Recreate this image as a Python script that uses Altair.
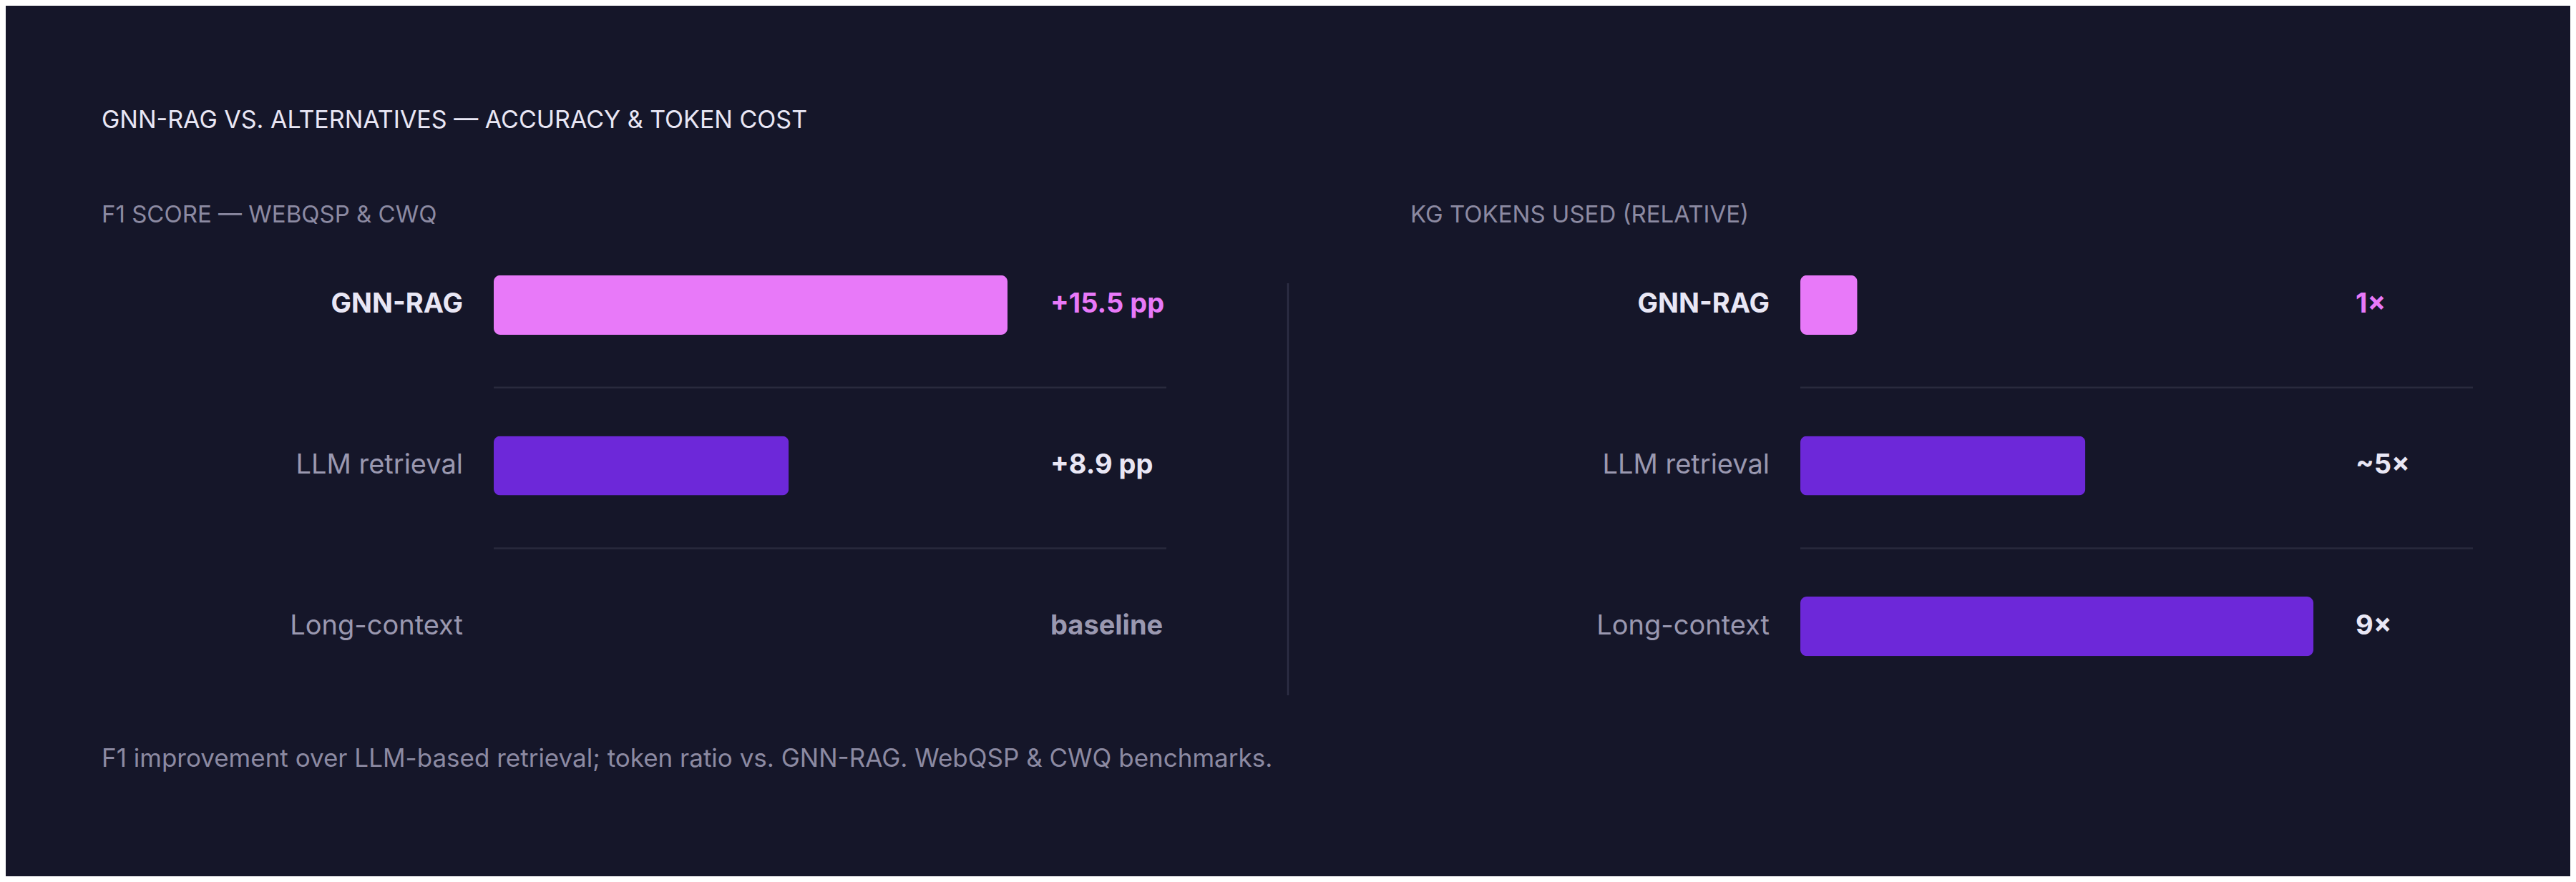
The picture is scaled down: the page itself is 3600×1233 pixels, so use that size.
import altair as alt
import pandas as pd

# ---- data ----
methods = ["GNN-RAG", "LLM retrieval", "Long-context"]
f1_gain = [15.5, 8.9, 0.0]
f1_labels = ["+15.5 pp", "+8.9 pp", "baseline"]
token_ratio = [1, 5, 9]
token_labels = ["1×", "~5×", "9×"]

title_text = "GNN-RAG VS. ALTERNATIVES — ACCURACY & TOKEN COST"
left_subtitle = "F1 SCORE — WEBQSP & CWQ"
right_subtitle = "KG TOKENS USED (RELATIVE)"
footnote_text = "F1 improvement over LLM-based retrieval; token ratio vs. GNN-RAG. WebQSP & CWQ benchmarks."

df = pd.DataFrame({
    "method": methods,
    "f1": f1_gain,
    "f1_label": f1_labels,
    "tokens": token_ratio,
    "tok_label": token_labels,
})

# ---- style ----
BG = "#151629"
PINK = "#e879f9"
PURPLE = "#6d28d9"
WHITE = "#e9e7f5"
GREY = "#9a98b0"
SUB = "#8c8aa2"
SEP = "#292a3d"
DIV = "#2d2e44"
FONT = "Inter"
W, H = 3584, 1217

base = alt.Chart(df)
y_enc = alt.Y(
    "method:N", sort=methods, axis=None,
    scale=alt.Scale(domain=methods, range=[306, 980], paddingInner=0.63, paddingOuter=0.315),
)

left_bars = base.mark_bar(cornerRadius=9).encode(
    x=alt.X("f1:Q", axis=None,
            scale=alt.Scale(domain=[0, max(f1_gain)], range=[682, 1400], nice=False, zero=True)),
    y=y_enc,
    color=alt.Color("method:N", legend=None,
                    scale=alt.Scale(domain=methods, range=[PINK, PURPLE, PURPLE])),
)

right_bars = base.mark_bar(cornerRadius=9).encode(
    x=alt.X("tokens:Q", axis=None,
            scale=alt.Scale(domain=[0, max(token_ratio)], range=[2508, 3225], nice=False, zero=True)),
    y=y_enc,
    color=alt.Color("method:N", legend=None,
                    scale=alt.Scale(domain=methods, range=[PINK, PURPLE, PURPLE])),
)

def row_labels(xpix):
    bold = base.mark_text(align="right", baseline="middle", font=FONT, fontSize=38,
                          fontWeight=700, color=WHITE).encode(
        x=alt.value(xpix), y=y_enc, text="method:N"
    ).transform_filter(alt.datum.method == methods[0])
    reg = base.mark_text(align="right", baseline="middle", font=FONT, fontSize=38,
                         fontWeight=400, color=GREY).encode(
        x=alt.value(xpix), y=y_enc, text="method:N"
    ).transform_filter(alt.datum.method != methods[0])
    return [bold, reg]

left_vals = base.mark_text(align="left", baseline="middle", font=FONT, fontSize=38,
                           fontWeight=700).encode(
    x=alt.value(1460), y=y_enc, text="f1_label:N",
    color=alt.Color("method:N", legend=None,
                    scale=alt.Scale(domain=methods, range=[PINK, WHITE, GREY])),
)
right_vals = base.mark_text(align="left", baseline="middle", font=FONT, fontSize=38,
                            fontWeight=700).encode(
    x=alt.value(3284), y=y_enc, text="tok_label:N",
    color=alt.Color("method:N", legend=None,
                    scale=alt.Scale(domain=methods, range=[PINK, WHITE, WHITE])),
)

def separators(x0, x1):
    return base.mark_rule(yOffset=115.5, strokeWidth=2.5, color=SEP).encode(
        y=y_enc, x=alt.value(x0), x2=alt.value(x1)
    ).transform_filter(alt.datum.method != methods[-1])

one = alt.Data(values=[{"k": 1}])
divider = alt.Chart(one).mark_rule(strokeWidth=2.5, color=DIV).encode(
    x=alt.value(1792), y=alt.value(388), y2=alt.value(964)
)

def label(text, xpix, ypix, size, color, weight=400):
    return alt.Chart(one).mark_text(
        text=text, align="left", baseline="alphabetic", font=FONT,
        fontSize=size, fontWeight=weight, color=color
    ).encode(x=alt.value(xpix), y=alt.value(ypix))

title = label(title_text, 134, 171, 34, WHITE)
sub_l = label(left_subtitle, 134, 303, 33, SUB)
sub_r = label(right_subtitle, 1963, 303, 33, SUB)
foot = label(footnote_text, 134, 1064, 35, SUB)

chart = alt.layer(
    separators(682, 1622), separators(2508, 3448), divider,
    left_bars, right_bars,
    *row_labels(639), *row_labels(2465),
    left_vals, right_vals,
    title, sub_l, sub_r, foot,
).resolve_scale(
    x="independent", color="independent"
).properties(
    width=W, height=H, padding=0,
    autosize=alt.AutoSizeParams(type="none"),
    background=BG,
).configure_view(stroke=None)

chart.save("out.html", embed_options={"renderer": "svg", "actions": False})
